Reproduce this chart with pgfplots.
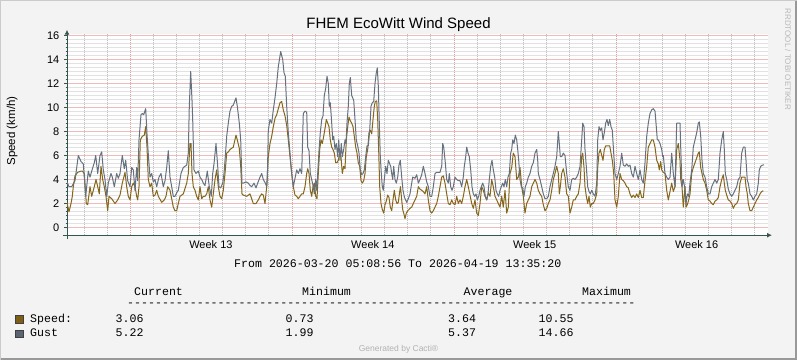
\documentclass[border=0pt]{standalone}
\usepackage{fontspec}
\setmainfont{Liberation Sans}
\setmonofont{Liberation Mono}
\usepackage{pgfplots}
\pgfplotsset{compat=1.18}
\usetikzlibrary{arrows.meta}
\definecolor{bgcol}{HTML}{F3F3F3}
\definecolor{canvascol}{HTML}{FEFEFE}
\definecolor{shadea}{HTML}{CBCBCB}
\definecolor{shadeb}{HTML}{999999}
\definecolor{axiscol}{HTML}{35564C}
\definecolor{gridcol}{HTML}{BEBEBE}
\definecolor{mgridcol}{HTML}{E3A0A0}
\definecolor{hgridcol}{HTML}{E2E2E2}
\definecolor{hmgridcol}{HTML}{EDBCBC}
\definecolor{speedcol}{HTML}{86661A}
\definecolor{gustcol}{HTML}{66717F}
\definecolor{speedsw}{HTML}{7D5E14}
\definecolor{gustsw}{HTML}{5A6474}
\begin{document}
\begin{tikzpicture}[x=1pt,y=1pt]
\useasboundingbox (0,0) rectangle (797,360);
\fill[bgcol] (0,0) rectangle (797,360);
\draw[shadea, line width=1pt] (0.5,0.5) -- (0.5,359.5) -- (796.5,359.5);
\draw[shadeb, line width=1.5pt] (0.75,1.25) -- (795.75,1.25) -- (795.75,359.25);
\begin{axis}[
  at={(67,104)}, anchor=south west,
  scale only axis, width=701pt, height=201.5pt,
  xmin=67, xmax=768, ymin=-0.64, ymax=16.15,
  axis background/.style={fill=canvascol},
  axis lines=left,
  axis line style={draw=axiscol, line width=1pt, -{Latex[length=5pt,width=5pt]}, shorten <=-4pt, shorten >=-4pt},
  ytick={0,2,...,16}, minor y tick num=5,
  xtick={210.9,372.8,534.7,696.6},
  xticklabels={Week 13,Week 14,Week 15,Week 16},
  xmajorgrids=false, xminorgrids=false, ymajorgrids=true, yminorgrids=true,
  major grid style={draw=hmgridcol, line width=1pt},
  minor grid style={draw=hgridcol, line width=1pt},
  tick align=outside, major tick length=3pt, minor tick length=1.5pt,
  xtick style={draw=none},
  ytick style={draw=axiscol, line width=0.8pt},
  tick label style={font=\fontsize{11}{13}\selectfont, text=black},
  /pgf/number format/assume math mode=true,
  yticklabel style={anchor=east, inner sep=0pt, xshift=-4.5pt},
  xticklabel style={anchor=base, inner sep=0pt, yshift=-10pt},
]
\pgfplotsinvokeforeach{84.5,107.5,153.5,176.5,199.5,222.5,245.5,268.5,315.5,338.5,361.5,384.5,407.5,430.5,477.5,500.5,523.5,546.5,569.5,592.5,639.5,662.5,685.5,708.5,731.5,754.5}{
  \draw[gridcol, line width=1pt, dash pattern=on 1pt off 1pt] (axis cs:#1,-0.64) -- (axis cs:#1,16.15);
}
\pgfplotsinvokeforeach{130.5,292.5,454.5,616.5}{
  \draw[mgridcol, line width=1pt, dash pattern=on 1pt off 1pt] (axis cs:#1,-0.64) -- (axis cs:#1,16.15);
}
\addplot[speedcol, line width=1pt, line join=round] table {
x y
67 2.1
69 1.3
71 2.0
72.3 2.6
73.3 3.4
75 4.3
77.7 4.6
81 4.7
82.3 4.7
84.3 4.5
86.3 2.0
87.7 1.9
90 3.4
91.7 2.6
94.3 3.4
96 4.0
97.7 3.4
99.3 2.8
101 5.1
102.7 4.0
104.3 3.4
106 2.6
107.7 1.4
109 2.6
111.7 2.4
115 2.0
117.7 2.3
120 2.7
122.3 3.7
125 4.6
126.7 3.4
128.3 2.6
130 2.3
131.7 3.4
133.3 3.7
135 3.4
136.7 2.6
137.7 2.3
139 3.4
140.3 7.3
142.3 7.6
144.3 7.7
145.7 8.4
147 6.7
148.3 4.0
150 3.4
151.7 3.7
153.3 2.6
155 2.7
156.7 3.1
158.3 2.6
161.7 2.1
164.3 2.3
166 2.6
167.7 3.4
170 3.1
171.7 2.4
173.3 1.7
175 1.4
176.7 1.4
178.3 2.0
180 2.6
183.3 2.8
186.7 3.7
188.3 4.5
190 7.0
191 7.0
192 4.5
193.3 3.4
195 3.1
196.7 2.6
198.3 2.3
200 3.4
201.7 2.4
203.3 2.6
205 2.6
206.7 2.8
208.3 3.4
210 2.3
211.7 1.7
213.3 2.8
215 4.0
216.7 4.8
218.3 3.4
220 2.6
221.7 2.4
223.3 3.1
225 4.5
226.7 6.2
228.3 6.3
230 6.5
233.3 6.7
236 7.7
237.3 7.3
239.3 6.6
240.7 5.1
242 2.8
243.3 2.7
246.7 2.6
250 2.8
253.3 2.0
256 2.0
258.3 2.3
260 2.6
261.7 2.8
263.3 2.7
265 2.0
266.7 3.4
268.3 5.9
270 7.0
271.7 7.6
273.3 8.4
275 9.1
276.7 9.4
278.3 9.9
280 10.4
281.7 10.5
283.3 9.8
285 9.3
286.7 8.5
288.3 7.3
290 5.9
291.7 4.5
293.3 3.4
295 2.7
296.7 2.6
298.3 2.4
300 2.6
301.7 2.8
303.3 2.8
305 3.4
306.7 4.5
307.7 4.9
309 4.5
310.3 3.1
311.7 2.6
313 3.4
314.3 3.7
315.7 2.6
317 2.4
318.3 4.5
319.7 6.5
321 7.3
322.3 7.0
323.7 7.6
325.3 8.4
326.3 9.0
327.7 8.7
329 8.4
330.3 7.3
331.7 6.7
333 6.5
334.3 6.2
335.7 5.4
337 5.4
338.3 5.6
339.7 6.2
341 5.9
342.3 4.5
343.7 5.1
345 4.9
346.3 7.3
347.7 8.4
349 9.2
350.3 8.9
351.7 8.7
353 8.4
354.3 7.6
355.7 6.7
357 6.2
358.3 5.4
359.7 5.1
361 3.9
362.3 3.7
363.7 3.9
365 4.5
366.3 5.9
367.7 6.5
369 7.9
370.3 8.1
371.7 7.8
373 9.0
374.3 10.1
375.3 10.5
376.7 10.55
377.7 9.0
378.7 6.4
379.7 3.4
381 2.0
382.3 1.5
383.7 1.2
385 1.9
386.3 2.2
387.7 2.7
389 2.5
390.3 1.7
391.7 1.4
393 2.3
394.3 3.1
395.7 2.3
397 2.0
398.3 2.1
399.7 3.0
400.5 3.4
401.7 2.3
402.7 1.5
403.7 1.2
405 0.75
406.3 1.2
407.7 1.4
409 1.5
410 1.6
411.7 1.7
413.3 2.0
415 2.3
416.7 2.6
418.3 3.4
420 3.2
421.7 3.1
423.3 3.0
425 2.8
426.7 3.4
428.3 2.3
430 1.4
431.7 1.2
433.3 1.4
435 1.7
436.7 2.0
438.3 2.6
440 3.4
441.7 4.2
443.3 4.3
445 3.7
446.7 2.8
448.3 2.0
450 1.9
451.7 2.3
453.3 2.0
455 1.9
456.7 2.6
458.3 2.0
460 2.3
461.7 2.0
463.3 2.6
465 3.4
466.7 4.0
468.3 3.4
470 2.7
471.7 2.0
473.3 1.6
475 2.3
476.7 1.2
478.3 1.0
480 2.0
481.7 3.4
483.3 3.1
485 2.6
486.7 2.3
488.3 2.9
490 2.6
491.7 4.0
493.3 3.4
495 2.6
496.7 2.3
498.3 2.0
500 1.7
501.7 2.6
503.3 1.7
505 3.1
506.7 1.2
508.3 1.7
510 4.5
511.7 5.0
513.3 6.2
515 5.9
516.7 4.0
518.3 4.2
520 5.0
521.7 3.4
523.3 2.6
525 1.2
526.7 2.0
528.3 2.3
530 2.6
531.7 3.4
533.3 3.7
535 4.0
536.7 3.7
538.3 3.1
540 2.8
541.7 2.6
543.3 1.9
545 1.4
546.7 1.6
548.3 2.0
550 2.3
551.7 3.1
553.3 4.0
555 4.5
556.7 5.1
558.3 4.5
559.3 2.8
560.3 3.4
561.7 4.5
563.3 4.9
565 4.2
566.7 2.8
568.3 2.6
570 1.2
571.7 1.7
573.3 2.3
575 2.3
576.7 2.6
578.3 2.8
580 3.7
581.7 5.9
582.7 6.2
584 5.0
585 3.4
586.3 2.6
587.7 2.0
589 2.6
590.3 1.7
591.7 2.0
593.3 2.0
595 2.3
596.7 2.8
597.7 5.0
599 6.2
600.3 6.5
601.7 6.0
603 5.6
604.3 6.5
605.7 6.8
607 6.8
608.3 6.8
609.7 6.8
611 6.2
612.3 5.6
613.7 4.5
615 2.3
616.7 1.7
618.3 2.6
620 4.5
621.7 4.0
623.3 3.9
625 3.7
626.7 3.4
628.3 3.3
630 2.8
631.7 2.5
633.3 2.7
635 2.5
636.7 2.8
638.3 2.5
640 3.1
641.7 2.5
643.3 2.5
645 3.9
646.7 5.1
648.3 6.7
650 7.0
651.7 7.3
653.3 7.3
655 6.7
656.7 5.6
658.3 5.3
659.3 4.8
660.7 5.5
661.7 4.8
663.3 4.6
665 4.5
666.7 3.1
668.3 2.3
670 3.0
671.7 3.7
673.3 3.0
675 3.4
676.7 6.5
678.3 7.0
680 5.6
680.7 4.0
682 3.4
683.3 1.7
685 3.4
686 1.7
687.3 1.9
688.7 2.3
690 2.8
691.7 4.5
693.3 5.0
695 5.4
696.7 5.8
698.3 6.2
699.3 6.3
700.7 5.0
702 4.5
703.3 4.0
705 3.7
706.7 3.1
708.3 2.3
710 2.2
711.7 2.0
713.3 1.9
715 2.2
716.7 2.3
718.3 2.5
720 3.4
721.7 4.0
723.3 4.4
724.3 3.7
725.3 3.1
726.7 2.7
728.3 2.3
730 2.2
731.7 2.0
733.3 1.6
735 1.9
736.7 2.0
738.3 2.3
740 3.7
741.7 4.2
743.3 4.2
745 4.2
746 3.4
747.3 2.8
748.3 2.0
750 1.4
751.7 1.4
753.3 1.7
755 2.0
756.7 2.3
758.3 2.5
760 2.8
761.7 3.0
763.3 3.06
};
\addplot[gustcol, line width=1pt, line join=round] table {
x y
67 3.8
69 3.4
71.7 3.4
75 3.9
78.3 6.0
81 5.5
83.3 5.3
85.7 2.6
88.3 4.7
90 4.2
91.7 4.7
94.3 5.4
95.7 6.0
97.7 4.5
100 6.0
101.7 6.3
103.3 4.8
105 4.0
106.7 2.6
108.3 3.7
111 4.5
112.3 4.2
114.3 3.4
116.7 4.5
118.3 4.1
120 4.5
122.3 6.0
124.3 4.9
125.7 5.6
127.7 3.9
130 3.4
131.7 5.0
133.3 4.8
135 3.1
136.7 5.0
137.7 3.9
139 7.3
141 9.4
142.3 9.5
143.7 9.4
145.7 9.9
147 7.8
148.3 6.1
150 4.2
151.7 4.5
153.3 3.8
155 4.0
156.7 3.4
159 4.2
161 4.5
163.3 3.4
165 3.9
166.7 5.0
168.3 6.4
170 4.2
171.7 3.4
173.3 2.6
175 2.6
176.7 2.9
178.3 3.1
181 4.5
183.3 5.0
185 5.1
186.7 5.2
188.3 6.2
189.3 10.1
190.7 13.0
192 10.6
192.7 9.0
194 4.8
196 4.5
198.3 4.7
200 4.2
201.7 4.0
203.3 3.7
205 3.5
207.3 4.7
209.3 3.4
211.3 2.6
212.7 4.5
214 5.3
216 7.0
217.7 5.1
219 3.4
220.7 3.3
222.7 3.7
224 4.5
225.3 5.9
226.7 7.6
228.3 8.7
230 9.7
231.7 10.1
233.3 10.2
236 10.8
237.3 10.1
239.3 8.7
240.7 7.3
242 3.7
243.3 3.7
246 3.8
248.3 3.7
250 3.5
251.7 3.4
254 3.7
256 3.3
257.7 3.7
260 4.2
261.7 4.5
263.3 4.0
265.3 3.7
266.7 3.4
267.3 4.0
268.3 8.1
270 9.0
271.7 8.7
273.3 9.8
275 10.8
276.7 12.0
278.3 13.4
280.7 14.66
282.7 14.0
284 12.9
285.3 12.6
286.7 10.1
288.3 7.9
290 6.2
291.7 4.5
293.3 3.4
295 4.1
296.7 4.8
298.3 4.5
300 4.9
301.7 4.5
303.3 9.5
305 9.7
306.7 9.6
307.7 6.7
309 6.4
310.3 4.5
311.7 4.0
313.3 3.4
314.3 2.8
315.7 4.0
316.7 3.1
317.7 4.5
319 6.4
320.3 7.9
321.7 9.0
323 9.3
324.3 11.0
325.7 11.6
327 12.6
328.3 12.0
329.3 10.1
330.3 10.4
331.7 8.7
332.7 7.3
333.7 7.6
335 6.5
336.3 7.0
337.7 5.9
338.7 7.3
340 5.6
341.3 7.0
342.3 5.9
343.7 6.5
345 7.3
346 7.0
347 8.7
348.3 10.1
349.3 12.0
350.3 12.5
351.7 11.0
352.7 10.8
353.7 10.6
355 9.0
356.3 7.3
357.7 6.8
359 6.2
360.3 4.8
361.7 4.4
363 4.5
364.3 4.8
365.7 5.9
367 6.8
368.3 6.8
369.7 8.1
371 10.1
372.3 10.4
373.7 10.5
375 12.0
376.3 12.9
377.3 13.3
378.3 11.8
379.3 8.7
380.3 5.9
381.3 4.5
382.3 3.4
383.3 3.1
384.3 4.0
385.7 5.1
387 4.5
388.3 5.6
389.7 5.3
390.7 5.1
391.7 4.5
392.7 4.0
393.7 5.1
395 4.0
396.3 3.7
397.7 4.2
399 5.2
400.3 5.6
401.7 4.2
403 3.1
404.5 2.5
406.7 2.1
408.3 2.4
410 2.8
411.5 3.6
412.7 4.2
415 4.1
416.7 4.4
418.3 3.7
420 4.0
421.7 4.4
423.3 5.1
425 4.5
426.7 3.8
428.3 3.4
430 2.6
431.7 2.6
433.3 3.4
435 4.5
436.7 4.6
438.3 4.6
440 4.6
441.7 5.1
442.7 7.0
443.7 6.7
445.3 5.4
446.7 4.0
448.3 3.7
449.3 4.5
450.7 3.4
452 3.1
453.3 3.4
455 4.2
456.7 4.0
458.3 3.9
460 3.9
461.7 3.4
463.3 4.2
464.3 5.1
465.7 5.9
466.7 6.7
468 6.2
469.3 5.9
470.7 4.8
472 3.4
473.3 2.8
474.7 2.6
476 2.8
477.3 2.3
478.7 2.6
480 3.1
481.3 3.4
482.7 3.7
484 3.4
485.3 2.6
486.7 2.3
488 2.8
489.3 4.0
490.7 5.1
492 5.6
493.3 4.8
494.7 4.2
496 3.1
497.3 2.8
498.7 2.6
500 3.1
501.3 3.4
502.7 3.7
504 3.4
505.3 4.0
506.7 3.4
508 4.2
509.3 4.5
510.7 6.2
511.7 6.5
512.7 7.3
514 7.0
515.3 7.7
516.7 7.3
517.7 6.5
518.7 5.6
520 4.0
521.3 3.4
522.7 3.3
524 2.6
525.3 3.4
526.7 3.7
528.3 4.2
530 4.5
531.7 5.1
533.3 5.4
535 6.2
536.7 6.5
537.7 5.6
538.3 4.5
540 4.0
541.7 3.4
543.3 2.8
545 2.4
546.7 2.4
548.3 2.6
550 3.4
551.7 4.0
553.3 4.5
555 5.1
556.7 5.9
558.3 8.0
559.3 7.0
560.3 5.9
561.7 5.9
563.3 6.2
565 6.0
566.7 4.5
568.3 3.4
570 3.1
571.7 4.0
573.3 4.1
575 4.0
576.7 4.2
578.3 4.5
580 5.1
581.7 7.3
582.7 8.7
584 8.4
585 6.5
586.3 5.1
587.7 3.4
589 3.0
590.3 2.8
591.7 3.1
593.3 2.8
595 2.6
596.7 3.7
597.7 7.3
599 8.4
600.3 8.1
601.7 8.3
603 7.3
604.3 7.9
605.7 8.7
607 9.0
608.3 8.5
609.7 9.0
611 8.4
612.3 8.1
613.7 6.2
615 4.5
616.7 4.0
618.3 4.5
620 5.1
621.7 6.2
623.3 5.2
625 5.1
626.7 5.3
628.3 5.1
630 5.2
631.7 4.5
633.3 4.2
635 5.1
636.7 4.5
638.3 4.0
640 4.8
641.7 4.0
643.3 3.7
645 5.4
646.7 7.6
648.3 8.7
650 9.5
651.7 9.8
653.3 9.9
655 9.7
656 8.7
657.3 7.3
658.3 7.3
660 7.0
661.7 6.5
662.7 5.9
663.3 6.0
665 4.5
666.7 4.2
668.3 4.0
670 4.2
671.7 6.2
673.3 4.5
675 3.4
676.7 8.7
678.3 8.7
680 8.7
680.7 6.7
682 3.4
683.3 4.0
685 3.2
686 2.0
687.3 2.8
688.7 2.6
690 3.7
691.7 4.8
693.3 6.7
695 7.3
696.7 7.9
698.3 8.7
699.3 8.8
700.7 7.6
702 5.6
703.3 4.5
705 4.2
706.7 3.4
708.3 2.8
710 2.8
711.7 3.4
713.3 3.7
715 4.0
716.7 3.7
718.3 4.0
720 6.2
721.7 7.3
723.3 8.0
724.3 6.5
725.3 4.5
726.7 4.0
728.3 3.2
730 2.8
731.7 2.6
733.3 2.8
735 3.1
736.7 3.4
738.3 4.0
740 4.2
741.7 6.2
743.3 6.7
745 6.7
746 5.6
747.3 3.9
748.3 3.7
750 2.8
751.7 2.6
753.3 2.3
755 2.6
756.7 2.8
758.3 3.7
759.3 4.8
760.7 5.1
762.3 5.2
764 5.22
};
\end{axis}
% title and labels
\node[anchor=base, font=\fontsize{15}{18}\selectfont] at (398.5,332) {FHEM EcoWitt Wind Speed};
\node[anchor=base, rotate=90, font=\fontsize{11.5}{14}\selectfont] at (15,229) {Speed (km/h)};
\node[anchor=base west, rotate=-90, font=\fontsize{8}{10}\selectfont, text=black!28] at (785,355) {RRDTOOL / TOBI OETIKER};
\node[anchor=base, font=\fontsize{8.5}{10}\selectfont, text=black!30] at (398.5,8.5) {Generated by Cacti®};
% legend
\begin{scope}[every node/.style={anchor=base west, inner sep=0pt, font=\fontsize{11.6}{14}\ttfamily}]
\node at (234,93) {From 2026-03-20 05:08:56 To 2026-04-19 13:35:20};
\node at (134,65) {Current};
\node at (302,65) {Minimum};
\node at (463.5,65) {Average};
\node at (582,65) {Maximum};
\node at (127,54) {-------------------------------------------------------------------------};
\node at (30,37.3) {Speed:};
\node at (115.5,37.3) {3.06};
\node at (285.5,37.3) {0.73};
\node at (448,37.3) {3.64};
\node at (538.5,37.3) {10.55};
\node at (30,24) {Gust};
\node at (115.5,24) {5.22};
\node at (285.5,24) {1.99};
\node at (448,24) {5.37};
\node at (538.5,24) {14.66};
\end{scope}
\filldraw[fill=speedsw, draw=black!75, line width=0.8pt] (15.5,36.5) rectangle (23,44.2);
\filldraw[fill=gustsw, draw=black!75, line width=0.8pt] (15.5,22.2) rectangle (23,30);
\end{tikzpicture}
\end{document}
